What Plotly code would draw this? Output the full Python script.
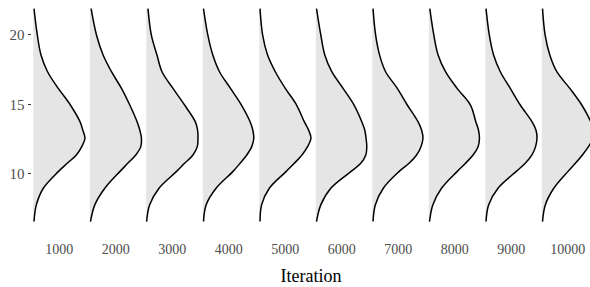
import plotly.graph_objects as go

# Iterations (categories)
iterations = [1000, 2000, 3000, 4000, 5000, 6000, 7000, 8000, 9000, 10000]
tick_labels = [str(i) for i in iterations]

# y values at which densities are read
y_grid = [21.9, 20.0, 18.55, 17.35, 16.15, 14.95, 13.75, 13.15, 12.55,
          11.95, 11.35, 10.75, 10.15, 8.95, 7.75, 6.55]

# density estimates per iteration (same order as y_grid)
dens_1000 = [0.0022, 0.0125, 0.0241, 0.0445, 0.0781, 0.1160, 0.1459, 0.1547, 0.1616,
             0.1516, 0.1345, 0.1063, 0.0781, 0.0313, 0.0094, 0.0022]
dens_2000 = [0.0041, 0.0209, 0.0416, 0.0678, 0.0991, 0.1250, 0.1478, 0.1563, 0.1616,
             0.1594, 0.1438, 0.1188, 0.0938, 0.0469, 0.0156, 0.0022]
dens_3000 = [0.0053, 0.0156, 0.0334, 0.0491, 0.0834, 0.1197, 0.1531, 0.1603, 0.1616,
             0.1594, 0.1459, 0.1197, 0.0938, 0.0397, 0.0103, 0.0009]
dens_4000 = [0.0022, 0.0156, 0.0313, 0.0522, 0.0866, 0.1209, 0.1478, 0.1563, 0.1594,
             0.1531, 0.1375, 0.1166, 0.0938, 0.0416, 0.0103, 0.0022]
dens_5000 = [0.0022, 0.0103, 0.0259, 0.0500, 0.0813, 0.1166, 0.1406, 0.1541, 0.1616,
             0.1509, 0.1334, 0.1094, 0.0834, 0.0313, 0.0072, 0.0022]
dens_6000 = [0.0022, 0.0156, 0.0281, 0.0500, 0.0853, 0.1197, 0.1438, 0.1531, 0.1572,
             0.1594, 0.1563, 0.1406, 0.1094, 0.0469, 0.0156, 0.0022]
dens_7000 = [0.0022, 0.0103, 0.0228, 0.0416, 0.0781, 0.1094, 0.1428, 0.1541, 0.1584,
             0.1522, 0.1384, 0.1147, 0.0834, 0.0344, 0.0094, 0.0022]
dens_8000 = [0.0031, 0.0156, 0.0291, 0.0522, 0.0884, 0.1303, 0.1469, 0.1553, 0.1584,
             0.1541, 0.1384, 0.1147, 0.0884, 0.0397, 0.0125, 0.0022]
dens_9000 = [0.0022, 0.0125, 0.0259, 0.0469, 0.0781, 0.1094, 0.1459, 0.1584, 0.1616,
             0.1572, 0.1459, 0.1250, 0.0959, 0.0397, 0.0103, 0.0022]
dens_10000 = [0.0022, 0.0103, 0.0250, 0.0469, 0.0875, 0.1250, 0.1530, 0.1620, 0.1600,
              0.1460, 0.1270, 0.1050, 0.0813, 0.0375, 0.0109, 0.0022]

densities = [dens_1000, dens_2000, dens_3000, dens_4000, dens_5000,
             dens_6000, dens_7000, dens_8000, dens_9000, dens_10000]

BASE_OFFSET = 460      # baseline sits left of the category position
DENS_SCALE = 5660      # density -> x units
FONT = "Liberation Serif"

fig = go.Figure()
for it, dens in zip(iterations, densities):
    base = it - BASE_OFFSET
    xs = [base + d * DENS_SCALE for d in dens]
    # invisible baseline
    fig.add_trace(go.Scatter(x=[base, base], y=[y_grid[0], y_grid[-1]],
                             mode="lines", line=dict(width=0, color="rgba(0,0,0,0)"),
                             hoverinfo="skip", showlegend=False))
    fig.add_trace(go.Scatter(x=xs, y=y_grid, mode="lines", fill="tonextx",
                             fillcolor="#e5e5e5",
                             line=dict(color="black", width=1.5, shape="spline", smoothing=1),
                             showlegend=False))

fig.update_layout(
    width=590, height=287,
    margin=dict(l=32, r=0, t=0, b=61),
    paper_bgcolor="white", plot_bgcolor="white",
    font=dict(family=FONT, color="black"),
    showlegend=False,
    xaxis=dict(
        range=[517, 10393],
        tickvals=iterations, ticktext=tick_labels,
        ticks="outside", ticklen=10, tickcolor="rgba(0,0,0,0)",
        tickfont=dict(family=FONT, size=14, color="#4d4d4d"),
        showgrid=False, zeroline=False, showline=False,
        title=dict(text="Iteration", font=dict(family=FONT, size=18, color="black"),
                   standoff=13),
        automargin=False,
    ),
    yaxis=dict(
        range=[6.23, 22.52],
        tickvals=[10, 15, 20],
        ticks="outside", ticklen=3.5, tickwidth=1.1, tickcolor="#333333",
        tickfont=dict(family=FONT, size=15, color="#4d4d4d"),
        showgrid=False, zeroline=False, showline=False,
        automargin=False,
    ),
)

fig.write_html(
    "out.html",
    config={"displayModeBar": False},
    post_script="document.body.style.margin='0px';document.body.style.overflow='hidden';",
)
